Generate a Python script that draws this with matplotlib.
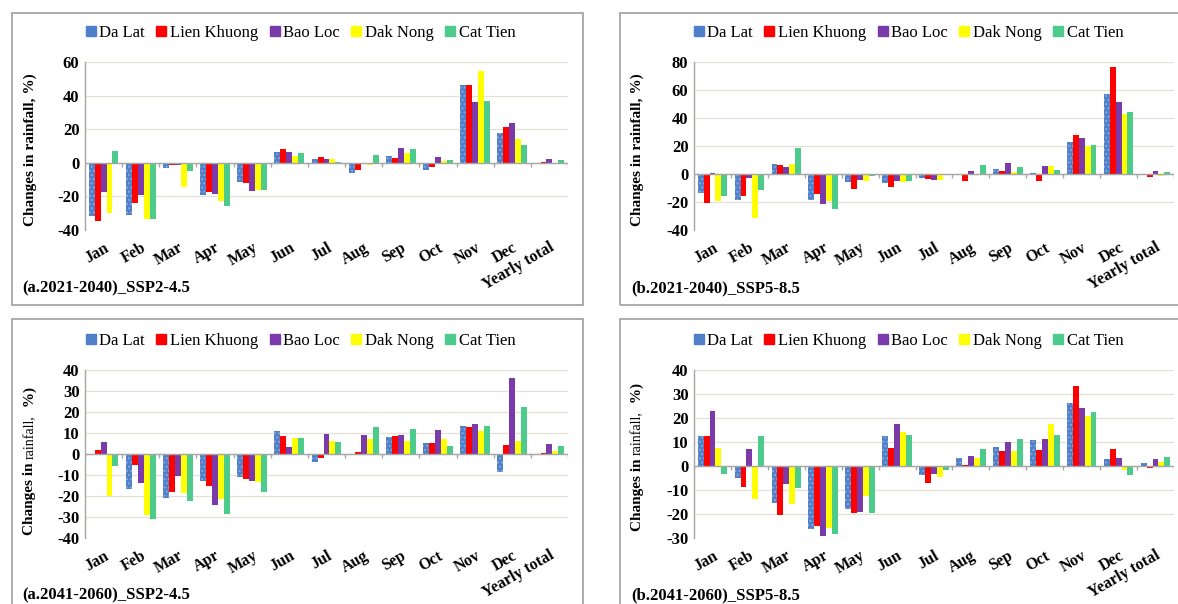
import numpy as np
import matplotlib
matplotlib.use("Agg")
import matplotlib.pyplot as plt
from matplotlib.lines import Line2D
from matplotlib.patches import Rectangle

categories = ['Jan', 'Feb', 'Mar', 'Apr', 'May', 'Jun', 'Jul', 'Aug', 'Sep',
              'Oct', 'Nov', 'Dec', 'Yearly total']
stations = ['Da Lat', 'Lien Khuong', 'Bao Loc', 'Dak Nong', 'Cat Tien']

# (a.2021-2040)_SSP2-4.5
a1_da_lat = [-31.7, -30.8, -3.0, -19.4, -11.3, 6.5, 2.4, -6.0, 4.0, -4.0, 46.2, 17.9, -0.8]
a1_lien_khuong = [-34.7, -23.8, -1.4, -17.3, -11.9, 8.5, 3.2, -4.0, 3.0, -2.4, 46.4, 21.2, 0.4]
a1_bao_loc = [-17.5, -19.4, -1.4, -18.5, -16.9, 6.5, 2.4, -0.5, 8.7, 3.6, 36.1, 23.6, 2.0]
a1_dak_nong = [-29.8, -33.7, -14.3, -22.8, -15.9, 3.8, 2.0, -1.4, 5.6, 1.2, 54.4, 13.9, -0.8]
a1_cat_tien = [7.3, -33.3, -5.0, -25.8, -16.3, 5.6, 0.3, 4.4, 8.5, 1.6, 36.7, 10.3, 1.8]

# (b.2021-2040)_SSP5-8.5
b1_da_lat = [-13.6, -18.3, 7.4, -18.3, -6.0, -6.7, -2.9, 0.3, 3.6, 1.0, 23.1, 57.1, -0.7]
b1_lien_khuong = [-20.7, -15.5, 6.4, -14.0, -10.7, -9.5, -3.6, -4.8, 2.1, -4.8, 27.9, 76.7, -1.9]
b1_bao_loc = [0.7, -2.9, 4.8, -21.4, -4.0, -4.8, -4.0, 2.4, 7.6, 6.0, 25.5, 51.2, 1.9]
b1_dak_nong = [-19.5, -31.4, 7.4, -19.0, -5.2, -6.0, -4.0, -1.0, 1.4, 5.5, 19.8, 43.1, -1.7]
b1_cat_tien = [-16.0, -11.7, 18.3, -24.8, -1.7, -5.2, -1.0, 6.4, 5.2, 3.1, 20.5, 44.3, 1.7]

# (a.2041-2060)_SSP2-4.5
a2_da_lat = [-0.6, -16.8, -21.1, -12.9, -10.8, 11.1, -3.7, -0.6, 7.9, 5.4, 13.3, -8.7, -0.3]
a2_lien_khuong = [1.7, -5.2, -18.3, -15.2, -11.9, 8.6, -1.9, 1.1, 8.4, 5.1, 12.7, 4.3, 0.6]
a2_bao_loc = [5.9, -14.0, -10.3, -24.3, -12.7, 3.5, 9.5, 8.9, 9.0, 11.4, 14.1, 36.3, 4.6]
a2_dak_nong = [-19.8, -29.0, -18.4, -21.4, -13.5, 7.5, 6.3, 7.0, 6.2, 7.0, 11.0, 6.3, 1.3]
a2_cat_tien = [-5.7, -31.1, -22.2, -28.6, -18.3, 7.6, 5.6, 12.7, 11.7, 3.7, 13.3, 22.5, 3.7]

# (b.2041-2060)_SSP5-8.5
b2_da_lat = [12.3, -5.0, -15.5, -26.2, -17.8, 12.4, -3.9, 3.5, 7.9, 10.7, 26.2, 3.1, 1.3]
b2_lien_khuong = [12.7, -8.8, -20.6, -25.2, -19.7, 7.5, -7.0, 0.6, 6.4, 6.7, 33.4, 7.0, -1.0]
b2_bao_loc = [22.8, 7.1, -7.7, -29.0, -19.0, 17.3, -3.2, 4.3, 9.8, 11.3, 24.3, 3.5, 2.9]
b2_dak_nong = [7.5, -13.7, -16.0, -25.8, -12.3, 14.2, -4.6, 3.2, 6.4, 17.3, 20.8, -1.5, 1.8]
b2_cat_tien = [-3.4, 12.6, -9.2, -28.3, -19.5, 13.1, -1.8, 7.2, 11.4, 13.0, 22.4, -3.9, 3.9]

captions = ['(a.2021-2040)_SSP2-4.5', '(b.2021-2040)_SSP5-8.5',
            '(a.2041-2060)_SSP2-4.5', '(b.2041-2060)_SSP5-8.5']
y_limits = [(-40, 60), (-40, 80), (-40, 40), (-30, 40)]
y_steps = [20, 20, 10, 10]
ylabel = 'Changes in rainfall, %)'
ylabel_parts = ['Changes in ', 'rainfall,', '  %)']

panels = [
    [a1_da_lat, a1_lien_khuong, a1_bao_loc, a1_dak_nong, a1_cat_tien],
    [b1_da_lat, b1_lien_khuong, b1_bao_loc, b1_dak_nong, b1_cat_tien],
    [a2_da_lat, a2_lien_khuong, a2_bao_loc, a2_dak_nong, a2_cat_tien],
    [b2_da_lat, b2_lien_khuong, b2_bao_loc, b2_dak_nong, b2_cat_tien],
]

colors = ['#4F7FC8', '#FF0000', '#7A3AAA', '#FFFF00', '#4DCB8A']

W, H = 1178, 604
SERIF = 'Liberation Serif'
fig = plt.figure(figsize=(W / 100, H / 100), dpi=100)
fig.patch.set_facecolor('white')
renderer = fig.canvas.get_renderer()

# layout in pixels
layout = [
    (85, 568, 62, 230, 12, 13, 583, 305, 300, 33, 30, 150, 22, 288),
    (694, 1174, 62, 230, 620, 13, 1200, 305, 908, 33, 637, 150, 631, 288),
    (85, 568, 370, 538, 12, 319, 583, 640, 300, 341, 30, 461, 22, 595),
    (694, 1174, 370, 538, 620, 319, 1200, 640, 908, 341, 637, 457, 631, 595),
]

grid_col = '#E4E0D4'
axis_col = '#A6A6A6'
n = len(categories)
x = np.arange(n)
bw = 0.16


def mixed_ylabel(xc, yc):
    styles = [dict(fontweight='bold', fontsize=11), dict(fontweight='normal', fontsize=10),
              dict(fontweight='bold', fontsize=11)]
    texts = []
    for part, st in zip(ylabel_parts, styles):
        t = fig.text(0, 0, part, rotation=90, ha='center', va='bottom',
                     fontfamily=SERIF, **st)
        texts.append(t)
    heights = [t.get_window_extent(renderer).height for t in texts]
    total = sum(heights)
    ypos = (H - yc) - total / 2
    for t, h in zip(texts, heights):
        t.set_position((xc / W, ypos / H))
        ypos += h


for k, (series, lay) in enumerate(zip(panels, layout)):
    (al, ar, at, ab, bl, bt, br, bb, lcx, lcy, ylx, yly, cx, cy) = lay
    fig.add_artist(Rectangle((bl / W, 1 - bb / H), (br - bl) / W, (bb - bt) / H,
                             transform=fig.transFigure, fill=False,
                             edgecolor=axis_col, linewidth=1.3))
    ax = fig.add_axes([al / W, 1 - ab / H, (ar - al) / W, (ab - at) / H])
    ax.set_facecolor('none')
    ymin, ymax = y_limits[k]
    for i, (vals, col) in enumerate(zip(series, colors)):
        if i == 0:
            ax.bar(x + (i - 2) * bw, vals, width=bw, color=col, edgecolor='#86A8DC',
                   linewidth=0, hatch='....', zorder=3)
        else:
            ax.bar(x + (i - 2) * bw, vals, width=bw, color=col, linewidth=0, zorder=3)
    ax.set_xlim(-0.5, n - 0.5)
    ax.set_ylim(ymin, ymax)
    ax.set_yticks(np.arange(ymin, ymax + 0.1, y_steps[k]))
    ax.yaxis.grid(True, color=grid_col, linewidth=0.9, zorder=0)
    ax.set_axisbelow(True)
    for s in ['top', 'right', 'bottom']:
        ax.spines[s].set_visible(False)
    ax.spines['left'].set_color(axis_col)
    ax.spines['left'].set_linewidth(1.0)
    ax.axhline(0, color=axis_col, linewidth=1.0, zorder=4)
    t = 0.025 * (ymax - ymin)
    ax.vlines(np.arange(n + 1) - 0.5, -t, 0, color=axis_col, linewidth=1.0, zorder=4)
    ax.tick_params(axis='y', length=0, pad=4, labelsize=12)
    ax.set_yticklabels([f'{int(v)}' for v in ax.get_yticks()],
                       fontfamily=SERIF, fontweight='bold', fontsize=12)
    ax.set_xticks(x)
    ax.set_xticklabels(categories, rotation=30, ha='right', rotation_mode='anchor',
                       fontfamily=SERIF, fontweight='bold', fontsize=11.5)
    ax.tick_params(axis='x', length=0, pad=7)

    if k < 2:
        fig.text(ylx / W, 1 - yly / H, ylabel, rotation=90, ha='center', va='center',
                 fontfamily=SERIF, fontweight='bold', fontsize=11)
    else:
        mixed_ylabel(ylx, yly)
    fig.text(cx / W, 1 - cy / H, captions[k], ha='left', va='center',
             fontfamily=SERIF, fontweight='bold', fontsize=12)

    handles = [Line2D([], [], marker='s', linestyle='none', color=c, markersize=6.5)
               for c in colors]
    fig.legend(handles, stations, loc='center', bbox_to_anchor=(lcx / W, 1 - lcy / H),
               ncol=5, frameon=False, prop={'family': SERIF, 'size': 12},
               handlelength=0.7, handletextpad=0.15, columnspacing=0.65,
               borderaxespad=0, borderpad=0)

fig.savefig('out.png', dpi=100, facecolor='white')
